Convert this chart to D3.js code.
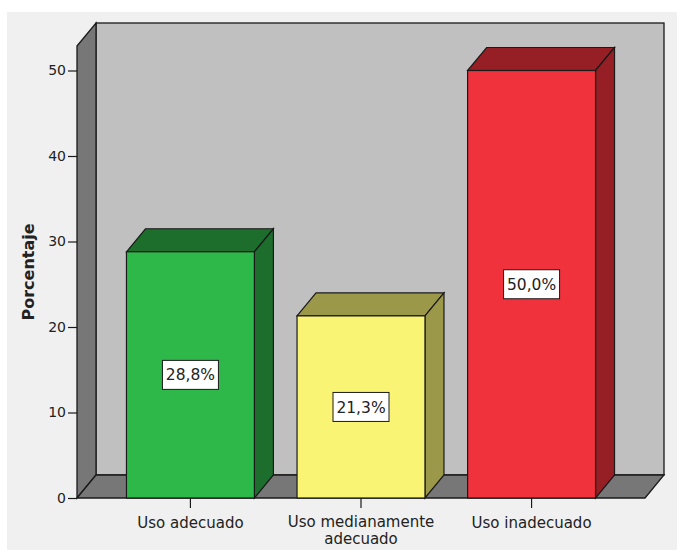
<!DOCTYPE html>
<html>
<head>
<meta charset="utf-8">
<script src="https://cdn.jsdelivr.net/npm/d3@7"></script>
<style>
  body { margin: 0; background: #fff; }
  text { font-family: "DejaVu Sans", sans-serif; fill: #222; }
</style>
</head>
<body>
<svg width="677" height="550"></svg>
<script>
// data
var categories = ["Uso adecuado", "Uso medianamente adecuado", "Uso inadecuado"];
var percents = [28.8, 21.3, 50.0];
var valueLabels = ["28,8%", "21,3%", "50,0%"];
var yTicks = [0, 10, 20, 30, 40, 50];
var frontColors = ["#2fb84a", "#faf475", "#f0323c"];
var darkColors = ["#1d6e2d", "#9c984a", "#951f25"];

var svg = d3.select("svg");

// 3d depth of walls and bars
var dx = 19, dy = -23;
var floorY = 498, wallTop = 46;
var left = 77, right = 645;

var x = d3.scaleBand()
    .domain(categories)
    .range([left, right])
    .paddingInner(0.25)
    .paddingOuter(0.29);

var y = d3.scaleLinear()
    .domain([0, 50])
    .range([floorY, 70.5]);

// panel background
svg.append("rect")
    .attr("x", 7).attr("y", 12)
    .attr("width", 670).attr("height", 538)
    .attr("fill", "#f0f0f0");

var stroke = "#1a1a1a";

// back wall
svg.append("rect")
    .attr("x", left + dx).attr("y", wallTop + dy)
    .attr("width", right - left).attr("height", floorY - wallTop)
    .attr("fill", "#c0c0c0")
    .attr("stroke", stroke).attr("stroke-width", 1.3);

// left wall
svg.append("polygon")
    .attr("points", [[left, wallTop], [left + dx, wallTop + dy], [left + dx, floorY + dy], [left, floorY]].join(" "))
    .attr("fill", "#777777")
    .attr("stroke", stroke).attr("stroke-width", 1.3);

// floor
svg.append("polygon")
    .attr("points", [[left, floorY], [left + dx, floorY + dy], [right + dx, floorY + dy], [right, floorY]].join(" "))
    .attr("fill", "#777777")
    .attr("stroke", stroke).attr("stroke-width", 1.3);

var bars = svg.selectAll(".bar")
    .data(percents)
    .enter()
  .append("g")
    .attr("class", "bar");

// top face
bars.append("polygon")
    .attr("points", function(d, i) {
        var x0 = x(categories[i]), w = x.bandwidth(), yv = y(d);
        return [[x0, yv], [x0 + dx, yv + dy], [x0 + w + dx, yv + dy], [x0 + w, yv]].join(" ");
    })
    .attr("fill", (d, i) => darkColors[i])
    .attr("stroke", stroke).attr("stroke-width", 1.2);

// side face
bars.append("polygon")
    .attr("points", function(d, i) {
        var x1 = x(categories[i]) + x.bandwidth(), yv = y(d);
        return [[x1, yv], [x1 + dx, yv + dy], [x1 + dx, floorY + dy], [x1, floorY]].join(" ");
    })
    .attr("fill", (d, i) => darkColors[i])
    .attr("stroke", stroke).attr("stroke-width", 1.2);

// front face
bars.append("rect")
    .attr("x", (d, i) => x(categories[i]))
    .attr("y", d => y(d))
    .attr("width", x.bandwidth())
    .attr("height", d => floorY - y(d))
    .attr("fill", (d, i) => frontColors[i])
    .attr("stroke", stroke).attr("stroke-width", 1.2);

// value labels
bars.append("rect")
    .attr("x", (d, i) => x(categories[i]) + x.bandwidth() / 2 - 28)
    .attr("y", d => (y(d) + floorY) / 2 - 14.5)
    .attr("width", 56)
    .attr("height", 29)
    .attr("fill", "#fff")
    .attr("stroke", stroke).attr("stroke-width", 1);

bars.append("text")
    .attr("x", (d, i) => x(categories[i]) + x.bandwidth() / 2)
    .attr("y", d => (y(d) + floorY) / 2)
    .attr("dy", "0.36em")
    .attr("text-anchor", "middle")
    .style("font-size", "15.5px")
    .text((d, i) => valueLabels[i]);

// y axis
var yAxis = svg.append("g")
    .attr("transform", "translate(" + left + ",0)")
    .call(d3.axisLeft(y).tickValues(yTicks).tickSize(9).tickPadding(2));
yAxis.select(".domain").remove();
yAxis.selectAll("line").attr("stroke", stroke).attr("stroke-width", 1.2);
yAxis.selectAll("text")
    .style("font-family", "DejaVu Sans, sans-serif")
    .style("font-size", "14px")
    .attr("fill", "#222");

// x axis
var xAxis = svg.append("g")
    .attr("transform", "translate(0," + floorY + ")")
    .call(d3.axisBottom(x).tickSize(10).tickFormat(""));
xAxis.select(".domain").remove();
xAxis.selectAll("line").attr("stroke", stroke).attr("stroke-width", 1.2);

var catText = svg.selectAll(".cat")
    .data(categories)
    .enter()
  .append("text")
    .attr("class", "cat")
    .attr("x", d => x(d) + x.bandwidth() / 2)
    .attr("y", 528)
    .attr("text-anchor", "middle")
    .style("font-size", "15px")
    .text(d => d);

// wrap labels wider than the band step
catText.each(function(d) {
    var t = d3.select(this);
    if (this.getComputedTextLength() <= x.step()) return;
    var words = d.split(" "), lines = [], line = [];
    t.text(null);
    var tmp = t.append("tspan");
    words.forEach(function(w) {
        line.push(w);
        tmp.text(line.join(" "));
        if (tmp.node().getComputedTextLength() > x.step() - 20 && line.length > 1) {
            line.pop();
            lines.push(line.join(" "));
            line = [w];
        }
    });
    lines.push(line.join(" "));
    tmp.remove();
    lines.forEach(function(l, k) {
        t.append("tspan")
            .attr("x", x(d) + x.bandwidth() / 2)
            .attr("dy", k === 0 ? 0 : "1.15em")
            .text(l);
    });
    t.attr("y", 527);
});

// y axis title
svg.append("text")
    .attr("transform", "translate(34,272) rotate(-90)")
    .attr("text-anchor", "middle")
    .style("font-size", "16px")
    .style("font-weight", "bold")
    .text("Porcentaje");
</script>
</body>
</html>
